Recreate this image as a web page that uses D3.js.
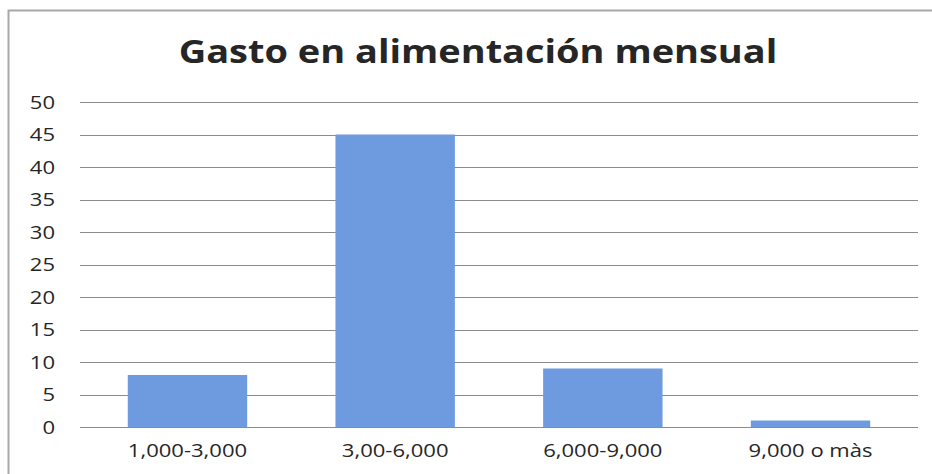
<!DOCTYPE html>
<html>
<head>
<meta charset="utf-8">
<script src="https://cdn.jsdelivr.net/npm/d3@7"></script>
<style>
  body { margin: 0; background: #fff; }
  svg { display: block; }
</style>
</head>
<body>
<svg id="chart" width="932" height="474"></svg>
<script>
// data
var categories = ["1,000-3,000", "3,00-6,000", "6,000-9,000", "9,000 o màs"];
var counts = [8, 45, 9, 1];
var yTicks = [0, 5, 10, 15, 20, 25, 30, 35, 40, 45, 50];
var chartTitle = "Gasto en alimentación mensual";

var svg = d3.select("#chart");
var margin = { left: 80, right: 14, top: 102, bottom: 47 };
var width = 932, height = 474;
var stretch = "scale(1.16,1)"; // the scan is a bit wide

// outer frame of the chart box
svg.append("path")
  .attr("d", "M8.5,480 V10.5 H940")
  .attr("fill", "none")
  .attr("stroke", "#a8a8a8")
  .attr("stroke-width", 2);

var x = d3.scaleBand()
  .domain(categories)
  .range([margin.left, width - margin.right])
  .paddingInner(0.425)
  .paddingOuter(0.23);

var y = d3.scaleLinear()
  .domain([0, 50])
  .range([height - margin.bottom, margin.top]);

// gridlines
svg.append("g")
  .selectAll("line")
  .data(yTicks)
  .enter()
  .append("line")
  .attr("x1", margin.left)
  .attr("x2", width - margin.right)
  .attr("y1", function(d) { return Math.round(y(d)) + 0.5; })
  .attr("y2", function(d) { return Math.round(y(d)) + 0.5; })
  .attr("stroke", "#8c8c8c")
  .attr("stroke-width", 1.2);

// bars
svg.append("g")
  .selectAll("rect")
  .data(counts)
  .enter()
  .append("rect")
  .attr("x", function(d, i) { return x(categories[i]); })
  .attr("width", x.bandwidth())
  .attr("y", function(d) { return y(d); })
  .attr("height", function(d) { return y(0) - y(d); })
  .attr("fill", "#6e9be0");

// y axis labels
var yAxis = d3.axisLeft(y).tickValues(yTicks).tickSize(0).tickPadding(0);
var gy = svg.append("g")
  .attr("transform", "translate(55,0)")
  .call(yAxis);
gy.select(".domain").remove();
gy.selectAll("text")
  .attr("transform", stretch)
  .attr("font-family", "'Open Sans', sans-serif")
  .attr("font-size", 19)
  .attr("fill", "#262626");

// x axis labels
var xAxis = d3.axisBottom(x).tickSize(0).tickPadding(0);
var gx = svg.append("g")
  .attr("transform", "translate(0," + (height - margin.bottom + 17) + ")")
  .call(xAxis);
gx.select(".domain").remove();
gx.selectAll("text")
  .attr("transform", stretch)
  .attr("font-family", "'Open Sans', sans-serif")
  .attr("font-size", 19)
  .attr("fill", "#262626");

// title
svg.append("text")
  .attr("transform", "translate(478,63) scale(1.15,1)")
  .attr("text-anchor", "middle")
  .attr("font-family", "'Open Sans', sans-serif")
  .attr("font-weight", "bold")
  .attr("font-size", 33)
  .attr("fill", "#262626")
  .text(chartTitle);
</script>
</body>
</html>
